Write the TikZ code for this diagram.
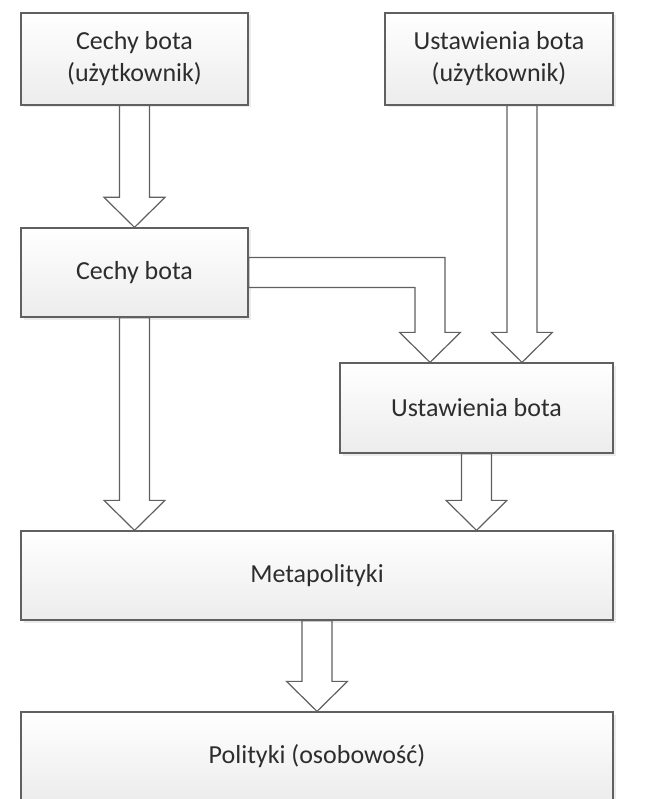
\documentclass[tikz,border=0pt]{standalone}
\usepackage{fontspec}
\setmainfont{Carlito}
\usepackage{xcolor}
\usepackage{tikz}
\usetikzlibrary{calc,shadows}
\definecolor{framegrey}{RGB}{96,96,96}
\definecolor{textgrey}{RGB}{45,45,45}
\definecolor{shadegrey}{RGB}{236,236,236}
\tikzset{
  stagebox/.style={rectangle,draw=framegrey,line width=1.3pt,
    top color=white,bottom color=shadegrey,text=textgrey,
    align=center,inner sep=0pt,
    font=\fontsize{26}{32}\selectfont,
    drop shadow={shadow xshift=2.5pt,shadow yshift=-2.5pt,
      fill=black!20,opacity=0.4}},
  blockarrow/.style={draw=framegrey,line width=1.2pt,fill=white,
    line join=miter}
}
% hollow arrow pointing down: #1 source node, #2 tip
\newcommand{\blockdown}[2]{%
  \draw[blockarrow] ($(#2 |- #1.south)+(-15,0)$) -- ($(#2)+(-15,-30)$)
    -- ($(#2)+(-30.5,-30)$) -- (#2) -- ($(#2)+(30.5,-30)$)
    -- ($(#2)+(15,-30)$) -- ($(#2 |- #1.south)+(15,0)$) -- cycle;}

\begin{document}
\begin{tikzpicture}[x=1pt,y=-1pt]
  \useasboundingbox (0,0) rectangle (647,799);
  % boxes
  \node[stagebox,minimum width=227pt,minimum height=92pt] (userfeat) at (134.5,59)
    {Cechy bota\\(użytkownik)};
  \node[stagebox,minimum width=228pt,minimum height=92pt] (usersett) at (499,59)
    {Ustawienia bota\\(użytkownik)};
  \node[stagebox,minimum width=227pt,minimum height=89pt] (feat) at (134.5,272.5)
    {Cechy bota};
  \node[stagebox,minimum width=273pt,minimum height=90pt] (sett) at (476.5,408)
    {Ustawienia bota};
  \node[stagebox,minimum width=592pt,minimum height=89pt] (meta) at (317,575.5)
    {Metapolityki};
  \node[stagebox,minimum width=592pt,minimum height=89pt] (policy) at (317,756.5)
    {Polityki (osobowość)};
  % arrow tips
  \coordinate (tipB) at ([xshift=-46.5pt]sett.north);
  \coordinate (tipC) at ([xshift=45.5pt]sett.north);
  \coordinate (tipD) at (feat |- meta.north);
  \coordinate (tipE) at (sett |- meta.north);
  \coordinate (bendB) at (tipB |- feat.east);
  % arrows
  \blockdown{userfeat}{feat.north}
  \blockdown{usersett}{tipC}
  \blockdown{feat}{tipD}
  \blockdown{sett}{tipE}
  \blockdown{meta}{policy.north}
  \draw[blockarrow] ($(feat.east)+(0,-15)$) -- ($(bendB)+(15,-15)$)
    -- ($(tipB)+(15,-30)$) -- ($(tipB)+(30.5,-30)$) -- (tipB)
    -- ($(tipB)+(-30.5,-30)$) -- ($(tipB)+(-15,-30)$)
    -- ($(bendB)+(-15,15)$) -- ($(feat.east)+(0,15)$) -- cycle;
\end{tikzpicture}
\end{document}
